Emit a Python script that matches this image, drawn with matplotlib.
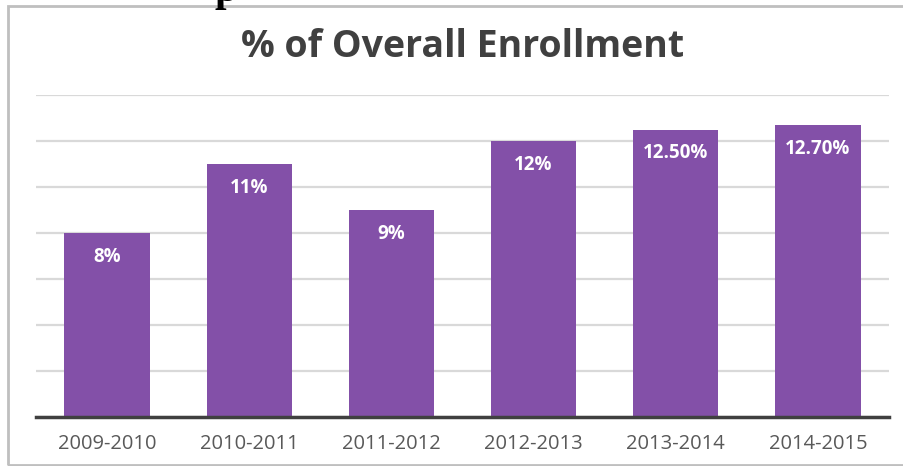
import matplotlib
matplotlib.use("Agg")
import matplotlib.pyplot as plt
from matplotlib.patches import Rectangle

# ---- data ----
years = ["2009-2010", "2010-2011", "2011-2012", "2012-2013", "2013-2014", "2014-2015"]
pct = [8, 11, 9, 12, 12.5, 12.7]
labels = ["8%", "11%", "9%", "12%", "12.50%", "12.70%"]

bar_color = "#8350A8"
plt.rcParams["font.family"] = ["Open Sans", "DejaVu Sans"]

W, H = 904, 466
fig = plt.figure(figsize=(W / 100, H / 100), dpi=100)

# cut-off page heading above the chart (only the descender shows)
fig.text(215 / W, 1 - 1 / H, "p", ha="left", va="baseline",
         family="Liberation Serif", fontweight="bold", fontsize=30, color="black")

# outer chart border
fig.patches.append(Rectangle((8 / W, 1 - 465 / H), 1.2, (465 - 6) / H,
                             transform=fig.transFigure, fill=False,
                             edgecolor="#bfbfbf", linewidth=2))

ax = fig.add_axes([36 / W, 1 - 417 / H, (889 - 36) / W, (417 - 95) / H])
x = range(len(years))
ax.bar(x, pct, width=0.6, color=bar_color, zorder=1)

ax.set_xlim(-0.5, 5.5)
ax.set_ylim(0, 14)
ax.set_yticks(range(0, 15, 2))
ax.yaxis.grid(True, color="#d9d9d9", linewidth=1.6, zorder=0)
ax.set_axisbelow(True)
ax.tick_params(axis="y", left=False, labelleft=False)
ax.tick_params(axis="x", bottom=False, labelsize=14.5, labelcolor="#595959", pad=9)
ax.set_xticks(list(x))
ax.set_xticklabels(years)
for s in ["top", "right", "left"]:
    ax.spines[s].set_visible(False)
ax.spines["bottom"].set_color("#404040")
ax.spines["bottom"].set_linewidth(2.5)

for i, (v, lab) in enumerate(zip(pct, labels)):
    ax.annotate(lab, (i, v), xytext=(0, -17), textcoords="offset points",
                ha="center", va="center", color="white", fontsize=13.5,
                fontweight="bold")

fig.text(463 / W, 1 - 47 / H, "% of Overall Enrollment", ha="center", va="center",
         fontsize=27, fontweight="bold", color="#404040")

fig.savefig("out.png", dpi=100)
